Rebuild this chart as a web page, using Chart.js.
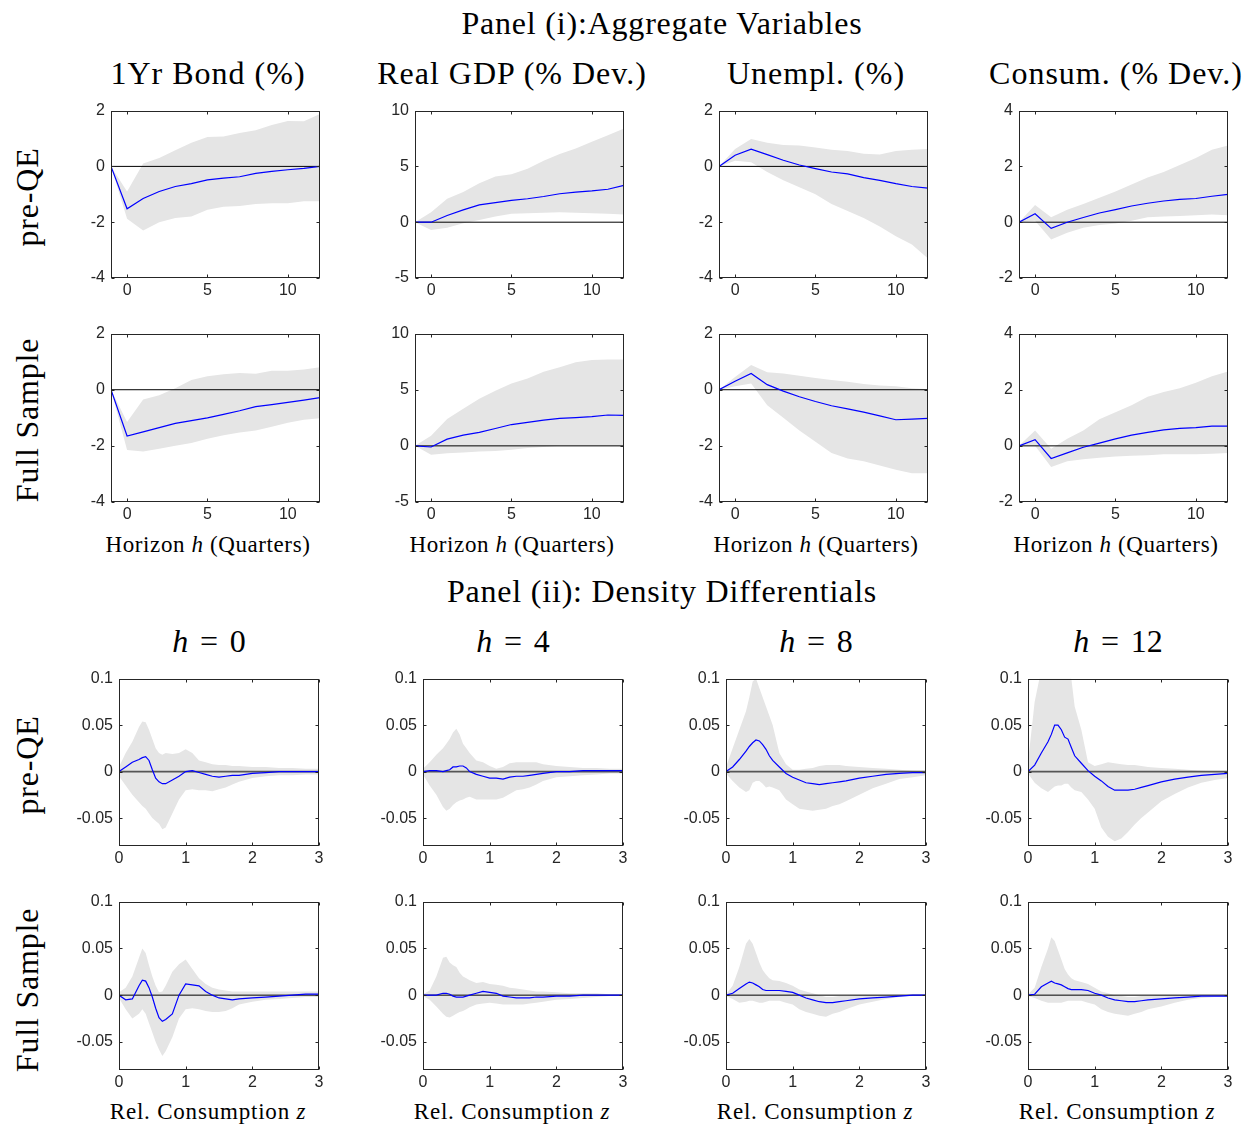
<!DOCTYPE html>
<html>
<head>
<meta charset="utf-8">
<script src="https://cdn.jsdelivr.net/npm/chart.js@4.4.1/dist/chart.umd.min.js"></script>
<style>
  body { margin: 0; background: #fff; }
  #page { position: relative; width: 1254px; height: 1127px; overflow: hidden; }
  .lbl { position: absolute; font-family: "Liberation Serif", "Times New Roman", serif; color: #000;
         white-space: nowrap; transform: translate(-50%, -50%); }
  .rot { transform: translate(-50%, -50%) rotate(-90deg); }
  .box { position: absolute; }
  .eq { margin: 0 0.37em; }
</style>
</head>
<body>
<div id="page"></div>
<script>
// ---- panel (i): impulse responses, horizons -1..12 ----
const horizons = [-1, 0, 1, 2, 3, 4, 5, 6, 7, 8, 9, 10, 11, 12];
const hTicks = [0, 5, 10];

const bondPreMean = [0, -1.52, -1.15, -0.9, -0.72, -0.62, -0.48, -0.42, -0.37, -0.25, -0.18, -0.12, -0.07, 0];
const bondPreLo = [0, -1.88, -2.3, -2.0, -1.85, -1.8, -1.55, -1.45, -1.42, -1.35, -1.32, -1.32, -1.25, -1.25];
const bondPreHi = [0, -0.9, 0.1, 0.3, 0.58, 0.85, 1.05, 1.07, 1.2, 1.3, 1.48, 1.63, 1.62, 1.88];

const gdpPreMean = [0, 0, 0.6, 1.1, 1.55, 1.75, 1.95, 2.1, 2.3, 2.55, 2.7, 2.8, 2.95, 3.3];
const gdpPreLo = [0, -0.7, -0.5, -0.1, 0.2, 0.5, 0.75, 0.8, 0.85, 0.9, 0.85, 0.8, 0.75, 0.7];
const gdpPreHi = [0, 0.9, 2.1, 2.7, 3.5, 4.1, 4.3, 4.8, 5.5, 6.1, 6.6, 7.2, 7.8, 8.4];

const unPreMean = [0, 0.4, 0.62, 0.42, 0.22, 0.05, -0.08, -0.2, -0.27, -0.4, -0.5, -0.62, -0.72, -0.78];
const unPreLo = [0, 0.2, 0.15, -0.2, -0.5, -0.75, -1.0, -1.35, -1.6, -1.85, -2.15, -2.5, -2.8, -3.3];
const unPreHi = [0, 0.62, 0.98, 0.85, 0.77, 0.75, 0.68, 0.6, 0.55, 0.45, 0.43, 0.55, 0.6, 0.62];

const conPreMean = [0, 0.3, -0.22, 0, 0.17, 0.33, 0.45, 0.58, 0.68, 0.76, 0.82, 0.85, 0.93, 1.0];
const conPreLo = [0, 0.05, -0.62, -0.38, -0.2, -0.1, -0.05, 0.05, 0.18, 0.2, 0.22, 0.25, 0.28, 0.25];
const conPreHi = [0, 0.62, 0.18, 0.45, 0.65, 0.88, 1.1, 1.35, 1.6, 1.8, 2.05, 2.3, 2.6, 2.75];

const bondFullMean = [0, -1.65, -1.5, -1.35, -1.2, -1.1, -1.0, -0.88, -0.75, -0.6, -0.53, -0.45, -0.37, -0.28];
const bondFullLo = [0, -2.15, -2.2, -2.1, -2.0, -1.9, -1.75, -1.62, -1.52, -1.45, -1.32, -1.18, -1.07, -1.02];
const bondFullHi = [0, -1.15, -0.35, -0.2, 0.05, 0.35, 0.48, 0.55, 0.6, 0.57, 0.68, 0.68, 0.72, 0.8];

const gdpFullMean = [0, -0.1, 0.6, 0.95, 1.2, 1.55, 1.9, 2.1, 2.3, 2.45, 2.52, 2.6, 2.75, 2.72];
const gdpFullLo = [0, -0.8, -0.65, -0.6, -0.5, -0.45, -0.35, -0.2, -0.1, 0, 0, 0, 0.02, 0];
const gdpFullHi = [0, 0.9, 2.4, 3.3, 4.2, 4.9, 5.55, 6.0, 6.6, 7.0, 7.45, 7.65, 7.7, 7.7];

const unFullMean = [0, 0.3, 0.58, 0.18, -0.05, -0.25, -0.42, -0.57, -0.68, -0.8, -0.93, -1.07, -1.05, -1.02];
const unFullLo = [0, 0.12, 0.22, -0.55, -1.0, -1.45, -1.85, -2.25, -2.45, -2.55, -2.7, -2.85, -2.98, -2.98];
const unFullHi = [0, 0.45, 0.88, 0.62, 0.58, 0.5, 0.42, 0.35, 0.28, 0.2, 0.15, 0.12, 0.05, 0.02];

const conFullMean = [0, 0.22, -0.45, -0.25, -0.05, 0.1, 0.25, 0.38, 0.48, 0.57, 0.62, 0.65, 0.7, 0.7];
const conFullLo = [0, 0, -0.75, -0.55, -0.48, -0.42, -0.38, -0.35, -0.33, -0.3, -0.3, -0.3, -0.28, -0.25];
const conFullHi = [0, 0.55, -0.1, 0.25, 0.55, 0.95, 1.2, 1.45, 1.75, 1.92, 2.05, 2.25, 2.48, 2.65];

const bondTicks = [-4, -2, 0, 2];
const gdpTicks = [-5, 0, 5, 10];
const unTicks = [-4, -2, 0, 2];
const conTicks = [-2, 0, 2, 4];

// ---- panel (ii): density differentials over relative consumption z ----
const zGrid = [0, 0.1, 0.2, 0.3, 0.35, 0.4, 0.45, 0.5, 0.55, 0.6, 0.65, 0.7, 0.8, 0.9, 1.0, 1.1, 1.2, 1.3, 1.4, 1.5, 1.6, 1.7, 1.8, 2.0, 2.2, 2.4, 2.6, 2.8, 3.0];
const zTicks = [0, 1, 2, 3];
const densTicks = [-0.05, 0, 0.05, 0.1];
const densRange = [-0.08, 0.1];

const d0PreMean = [0, 0.005, 0.01, 0.013, 0.015, 0.016, 0.012, 0.002, -0.007, -0.011, -0.013, -0.013, -0.009, -0.005, 0, 0.001, -0.001, -0.003, -0.005, -0.006, -0.005, -0.004, -0.004, -0.002, -0.001, 0, 0, 0, 0];
const d0PreHi = [0.005, 0.02, 0.032, 0.048, 0.054, 0.053, 0.045, 0.035, 0.025, 0.02, 0.018, 0.02, 0.019, 0.02, 0.024, 0.02, 0.012, 0.01, 0.008, 0.007, 0.007, 0.006, 0.006, 0.005, 0.005, 0.004, 0.004, 0.003, 0.003];
const d0PreLo = [-0.005, -0.015, -0.025, -0.033, -0.037, -0.04, -0.045, -0.05, -0.053, -0.056, -0.062, -0.06, -0.045, -0.03, -0.02, -0.019, -0.02, -0.02, -0.021, -0.019, -0.017, -0.014, -0.011, -0.007, -0.005, -0.004, -0.004, -0.003, -0.003];

const d4PreMean = [0, 0.001, 0.001, 0, 0.001, 0.002, 0.005, 0.005, 0.006, 0.006, 0.004, 0, -0.003, -0.005, -0.007, -0.007, -0.008, -0.006, -0.005, -0.005, -0.004, -0.003, -0.002, 0, 0, 0.001, 0.001, 0.001, 0.001];
const d4PreHi = [0.003, 0.01, 0.018, 0.025, 0.03, 0.035, 0.042, 0.046, 0.04, 0.03, 0.025, 0.02, 0.012, 0.01, 0.006, 0.003, 0.005, 0.009, 0.01, 0.01, 0.01, 0.01, 0.008, 0.006, 0.005, 0.004, 0.004, 0.003, 0.003];
const d4PreLo = [-0.003, -0.015, -0.025, -0.038, -0.042, -0.04, -0.036, -0.033, -0.031, -0.03, -0.028, -0.027, -0.03, -0.03, -0.03, -0.03, -0.028, -0.024, -0.02, -0.019, -0.017, -0.014, -0.01, -0.006, -0.005, -0.004, -0.003, -0.002, -0.002];

const d8PreMean = [0, 0.005, 0.013, 0.022, 0.027, 0.031, 0.034, 0.033, 0.029, 0.024, 0.017, 0.012, 0.005, -0.002, -0.006, -0.009, -0.012, -0.013, -0.014, -0.013, -0.012, -0.011, -0.01, -0.007, -0.005, -0.003, -0.002, -0.001, -0.001];
const d8PreHi = [0.005, 0.025, 0.045, 0.065, 0.08, 0.097, 0.1, 0.09, 0.08, 0.07, 0.06, 0.05, 0.02, 0.008, 0.002, 0.002, 0.003, 0.004, 0.006, 0.007, 0.007, 0.007, 0.006, 0.005, 0.004, 0.003, 0.002, 0.001, 0];
const d8PreLo = [-0.002, -0.01, -0.017, -0.022, -0.02, -0.012, -0.01, -0.01, -0.013, -0.017, -0.016, -0.017, -0.02, -0.03, -0.035, -0.04, -0.041, -0.042, -0.041, -0.04, -0.037, -0.035, -0.032, -0.025, -0.018, -0.013, -0.008, -0.006, -0.004];

const d12PreMean = [0, 0.007, 0.02, 0.032, 0.04, 0.05, 0.05, 0.045, 0.037, 0.035, 0.026, 0.017, 0.009, 0.001, -0.005, -0.01, -0.016, -0.02, -0.02, -0.02, -0.019, -0.017, -0.015, -0.011, -0.008, -0.006, -0.004, -0.003, -0.002];
const d12PreHi = [0.01, 0.075, 0.11, 0.13, 0.14, 0.15, 0.14, 0.13, 0.115, 0.105, 0.1, 0.07, 0.045, 0.01, 0.006, 0.008, 0.01, 0.009, 0.008, 0.007, 0.007, 0.006, 0.005, 0.004, 0.003, 0.002, 0.001, 0, -0.001];
const d12PreLo = [-0.002, -0.012, -0.018, -0.022, -0.019, -0.016, -0.015, -0.015, -0.013, -0.013, -0.017, -0.02, -0.022, -0.03, -0.04, -0.06, -0.07, -0.075, -0.072, -0.065, -0.057, -0.05, -0.044, -0.032, -0.024, -0.017, -0.012, -0.009, -0.007];

const d0FullMean = [0, -0.005, -0.004, 0.01, 0.016, 0.015, 0.008, -0.002, -0.014, -0.024, -0.028, -0.026, -0.02, 0, 0.012, 0.011, 0.01, 0.004, 0, -0.003, -0.004, -0.005, -0.004, -0.003, -0.002, -0.001, 0, 0.001, 0.001];
const d0FullHi = [0.003, 0.008, 0.02, 0.04, 0.05, 0.045, 0.032, 0.02, 0.01, 0.003, 0.004, 0.01, 0.025, 0.033, 0.038, 0.028, 0.018, 0.012, 0.008, 0.006, 0.005, 0.004, 0.004, 0.004, 0.004, 0.004, 0.004, 0.004, 0.004];
const d0FullLo = [-0.003, -0.015, -0.025, -0.02, -0.015, -0.02, -0.03, -0.04, -0.05, -0.058, -0.065, -0.06, -0.045, -0.025, -0.015, -0.014, -0.015, -0.017, -0.018, -0.018, -0.017, -0.014, -0.01, -0.007, -0.005, -0.004, -0.003, -0.002, -0.002];

const d4FullMean = [0, 0, 0, 0.002, 0.002, 0.001, -0.001, -0.002, -0.002, -0.002, -0.001, 0, 0.002, 0.004, 0.003, 0.002, -0.001, -0.002, -0.003, -0.003, -0.003, -0.002, -0.002, -0.001, -0.001, 0, 0, 0, 0];
const d4FullHi = [0.001, 0.005, 0.02, 0.04, 0.041, 0.035, 0.032, 0.03, 0.024, 0.02, 0.018, 0.016, 0.013, 0.014, 0.012, 0.011, 0.01, 0.008, 0.007, 0.006, 0.005, 0.004, 0.004, 0.003, 0.002, 0.002, 0.002, 0.001, 0.001];
const d4FullLo = [-0.001, -0.005, -0.012, -0.02, -0.023, -0.024, -0.022, -0.02, -0.018, -0.017, -0.015, -0.013, -0.01, -0.009, -0.008, -0.009, -0.01, -0.01, -0.01, -0.01, -0.009, -0.008, -0.007, -0.005, -0.004, -0.003, -0.002, -0.001, -0.001];

const d8FullMean = [0, 0.002, 0.007, 0.012, 0.014, 0.013, 0.011, 0.009, 0.006, 0.005, 0.005, 0.005, 0.005, 0.004, 0.003, 0, -0.003, -0.005, -0.007, -0.008, -0.008, -0.007, -0.006, -0.004, -0.003, -0.002, -0.001, 0, 0];
const d8FullHi = [0.001, 0.01, 0.03, 0.055, 0.06, 0.055, 0.045, 0.035, 0.027, 0.022, 0.018, 0.016, 0.015, 0.013, 0.01, 0.006, 0.004, 0.002, 0, -0.002, -0.002, -0.001, -0.001, 0, 0, 0, 0, 0, 0];
const d8FullLo = [-0.001, -0.004, -0.008, -0.007, -0.006, -0.006, -0.007, -0.008, -0.008, -0.007, -0.006, -0.006, -0.006, -0.008, -0.01, -0.015, -0.018, -0.02, -0.022, -0.023, -0.02, -0.018, -0.015, -0.01, -0.007, -0.004, -0.002, -0.001, -0.001];

const d12FullMean = [0, 0.001, 0.009, 0.013, 0.015, 0.013, 0.012, 0.011, 0.009, 0.007, 0.006, 0.006, 0.006, 0.005, 0.002, 0, -0.003, -0.005, -0.006, -0.007, -0.007, -0.006, -0.005, -0.004, -0.003, -0.002, -0.001, -0.001, -0.001];
const d12FullHi = [0.001, 0.008, 0.03, 0.05, 0.062, 0.058, 0.048, 0.038, 0.028, 0.022, 0.018, 0.016, 0.014, 0.012, 0.008, 0.004, 0.002, 0, -0.001, -0.002, -0.002, -0.001, -0.001, 0, 0, 0, 0, 0, 0];
const d12FullLo = [-0.001, -0.003, -0.006, -0.008, -0.008, -0.008, -0.008, -0.008, -0.007, -0.006, -0.006, -0.006, -0.006, -0.008, -0.01, -0.015, -0.018, -0.02, -0.021, -0.022, -0.02, -0.018, -0.015, -0.012, -0.008, -0.005, -0.003, -0.002, -0.002];

// ---- layout ----
const page = document.getElementById('page');
const Y_AXIS_W = 50, X_AXIS_H = 26, PAD_TOP = 10, PAD_RIGHT = 12;
const tickFont = { family: '"Liberation Sans", Arial, sans-serif', size: 16 };
const axisColor = '#262626';

// box + inward tick marks, matlab style
const boxPlugin = {
  id: 'mbox',
  afterDraw(chart) {
    const { ctx, chartArea: a, scales } = chart;
    ctx.save();
    ctx.strokeStyle = axisColor;
    ctx.lineWidth = 1;
    const L = Math.round(a.left) + 0.5, R = Math.round(a.right) - 0.5;
    const T = Math.round(a.top) + 0.5, B = Math.round(a.bottom) - 0.5;
    ctx.strokeRect(L, T, R - L, B - T);
    ctx.beginPath();
    scales.x.ticks.forEach(t => {
      const px = Math.round(scales.x.getPixelForValue(t.value)) + 0.5;
      ctx.moveTo(px, B); ctx.lineTo(px, B - 3);
      ctx.moveTo(px, T); ctx.lineTo(px, T + 3);
    });
    scales.y.ticks.forEach(t => {
      const py = Math.round(scales.y.getPixelForValue(t.value)) + 0.5;
      ctx.moveTo(L, py); ctx.lineTo(L + 3, py);
      ctx.moveTo(R, py); ctx.lineTo(R - 3, py);
    });
    ctx.stroke();
    ctx.restore();
  }
};

function fmt(v) {
  if (Math.abs(v) < 1e-9) return '0';
  return String(+v.toFixed(2));
}

function buildChart(div, w, h, xs, lo, hi, mean, xRange, yRange, xTicks, yTicks, zeroColor, zeroWidth) {
  div.innerHTML = '';
  const cv = document.createElement('canvas');
  cv.width = w; cv.height = h;
  cv.style.width = w + 'px'; cv.style.height = h + 'px';
  div.appendChild(cv);
  const pts = arr => xs.map((x, i) => ({ x: x, y: arr[i] }));
  return new Chart(cv, {
    type: 'line',
    data: {
      datasets: [
        { data: pts(lo), borderWidth: 0, borderColor: 'rgba(0,0,0,0)', pointRadius: 0, fill: false, order: 3 },
        { data: pts(hi), borderWidth: 0, borderColor: 'rgba(0,0,0,0)', pointRadius: 0, fill: '-1',
          backgroundColor: 'rgb(229,229,229)', order: 3 },
        { data: xRange.map(x => ({ x: x, y: 0 })), borderColor: zeroColor, borderWidth: zeroWidth,
          pointRadius: 0, fill: false, order: 1 },
        { data: pts(mean), borderColor: '#0000ff', borderWidth: 1.2, pointRadius: 0, fill: false, order: 0 }
      ]
    },
    options: {
      responsive: false,
      maintainAspectRatio: false,
      animation: false,
      devicePixelRatio: 1,
      events: [],
      layout: { padding: { top: PAD_TOP, right: PAD_RIGHT, left: 0, bottom: 0 } },
      plugins: { legend: { display: false }, tooltip: { enabled: false } },
      scales: {
        x: {
          type: 'linear', min: xRange[0], max: xRange[1],
          grid: { display: false, drawTicks: false }, border: { display: false },
          ticks: { font: tickFont, color: axisColor, padding: 3, maxRotation: 0, callback: fmt },
          afterBuildTicks: s => { s.ticks = xTicks.map(v => ({ value: v })); },
          afterFit: s => { s.height = X_AXIS_H; }
        },
        y: {
          type: 'linear', min: yRange[0], max: yRange[1],
          grid: { display: false, drawTicks: false }, border: { display: false },
          ticks: { font: tickFont, color: axisColor, padding: 6, callback: fmt },
          afterBuildTicks: s => { s.ticks = yTicks.map(v => ({ value: v })); },
          afterFit: s => { s.width = Y_AXIS_W; }
        }
      }
    },
    plugins: [boxPlugin]
  });
}

function makeChart(box, ...rest) {
  const div = document.createElement('div');
  div.className = 'box';
  page.appendChild(div);
  let w = box.w + Y_AXIS_W + PAD_RIGHT;
  let h = box.h + PAD_TOP + X_AXIS_H;
  let chart = buildChart(div, w, h, ...rest);
  let a = chart.chartArea;
  const dw = Math.round(box.w - (a.right - a.left)), dh = Math.round(box.h - (a.bottom - a.top));
  if (dw !== 0 || dh !== 0) {
    // rebuild on a canvas sized so the plot area matches the target box
    chart.destroy();
    chart = buildChart(div, w + dw, h + dh, ...rest);
    a = chart.chartArea;
  }
  div.style.left = (box.x - a.left) + 'px';
  div.style.top = (box.y - a.top) + 'px';
}

function label(html, x, y, size, spacing, rotate) {
  const d = document.createElement('div');
  d.className = 'lbl' + (rotate ? ' rot' : '');
  d.style.left = x + 'px';
  d.style.top = y + 'px';
  d.style.fontSize = size + 'px';
  d.style.letterSpacing = spacing + 'px';
  d.innerHTML = html;
  page.appendChild(d);
}

// panel (i)
const colI = [111, 415, 719, 1019];
const rowI = [{ y: 111, h: 167 }, { y: 334, h: 168 }];
const hRange = [horizons[0], horizons[horizons.length - 1]];
const panelI = [
  [bondPreLo, bondPreHi, bondPreMean, bondTicks], [gdpPreLo, gdpPreHi, gdpPreMean, gdpTicks],
  [unPreLo, unPreHi, unPreMean, unTicks], [conPreLo, conPreHi, conPreMean, conTicks],
  [bondFullLo, bondFullHi, bondFullMean, bondTicks], [gdpFullLo, gdpFullHi, gdpFullMean, gdpTicks],
  [unFullLo, unFullHi, unFullMean, unTicks], [conFullLo, conFullHi, conFullMean, conTicks]
];
panelI.forEach((p, k) => {
  const r = rowI[Math.floor(k / 4)], c = colI[k % 4];
  const yt = p[3];
  makeChart({ x: c, y: r.y, w: 209, h: r.h }, horizons, p[0], p[1], p[2], hRange,
            [yt[0], yt[yt.length - 1]], hTicks, yt, '#000', 1);
});

// panel (ii)
const colII = [119, 423, 726, 1028];
const rowII = [{ y: 679, h: 167 }, { y: 902, h: 168 }];
const zRange = [zGrid[0], zGrid[zGrid.length - 1]];
const panelII = [
  [d0PreLo, d0PreHi, d0PreMean], [d4PreLo, d4PreHi, d4PreMean],
  [d8PreLo, d8PreHi, d8PreMean], [d12PreLo, d12PreHi, d12PreMean],
  [d0FullLo, d0FullHi, d0FullMean], [d4FullLo, d4FullHi, d4FullMean],
  [d8FullLo, d8FullHi, d8FullMean], [d12FullLo, d12FullHi, d12FullMean]
];
panelII.forEach((p, k) => {
  const row = Math.floor(k / 4);
  const r = rowII[row], c = colII[k % 4];
  makeChart({ x: c, y: r.y, w: 200, h: r.h }, zGrid, p[0], p[1], p[2], zRange,
            densRange, zTicks, densTicks, row === 0 ? '#555' : '#000', row === 0 ? 1.6 : 1);
});

// titles and labels
label('Panel (i):Aggregate Variables', 662, 23, 32, 0.8);
const titlesI = ['1Yr Bond (%)', 'Real GDP (% Dev.)', 'Unempl. (%)', 'Consum. (% Dev.)'];
titlesI.forEach((t, i) => label(t, colI[i] + 97, 73, 32, 1));
colI.forEach(c => label('Horizon <i>h</i> (Quarters)', c + 97, 545, 23, 0.6));
label('pre-QE', 27, 197, 32, 0.8, true);
label('Full Sample', 27, 420, 32, 0.8, true);

label('Panel (ii): Density Differentials', 662, 591, 32, 0.8);
const titlesII = ['0', '4', '8', '12'];
titlesII.forEach((t, i) => label('<i>h</i><span class="eq">=</span>' + t, colII[i] + 90, 641, 32, 0));
colII.forEach(c => label('Rel. Consumption <i>z</i>', c + 89, 1112, 23, 0.8));
label('pre-QE', 27, 765, 32, 0.8, true);
label('Full Sample', 27, 990, 32, 0.8, true);
</script>
</body>
</html>
